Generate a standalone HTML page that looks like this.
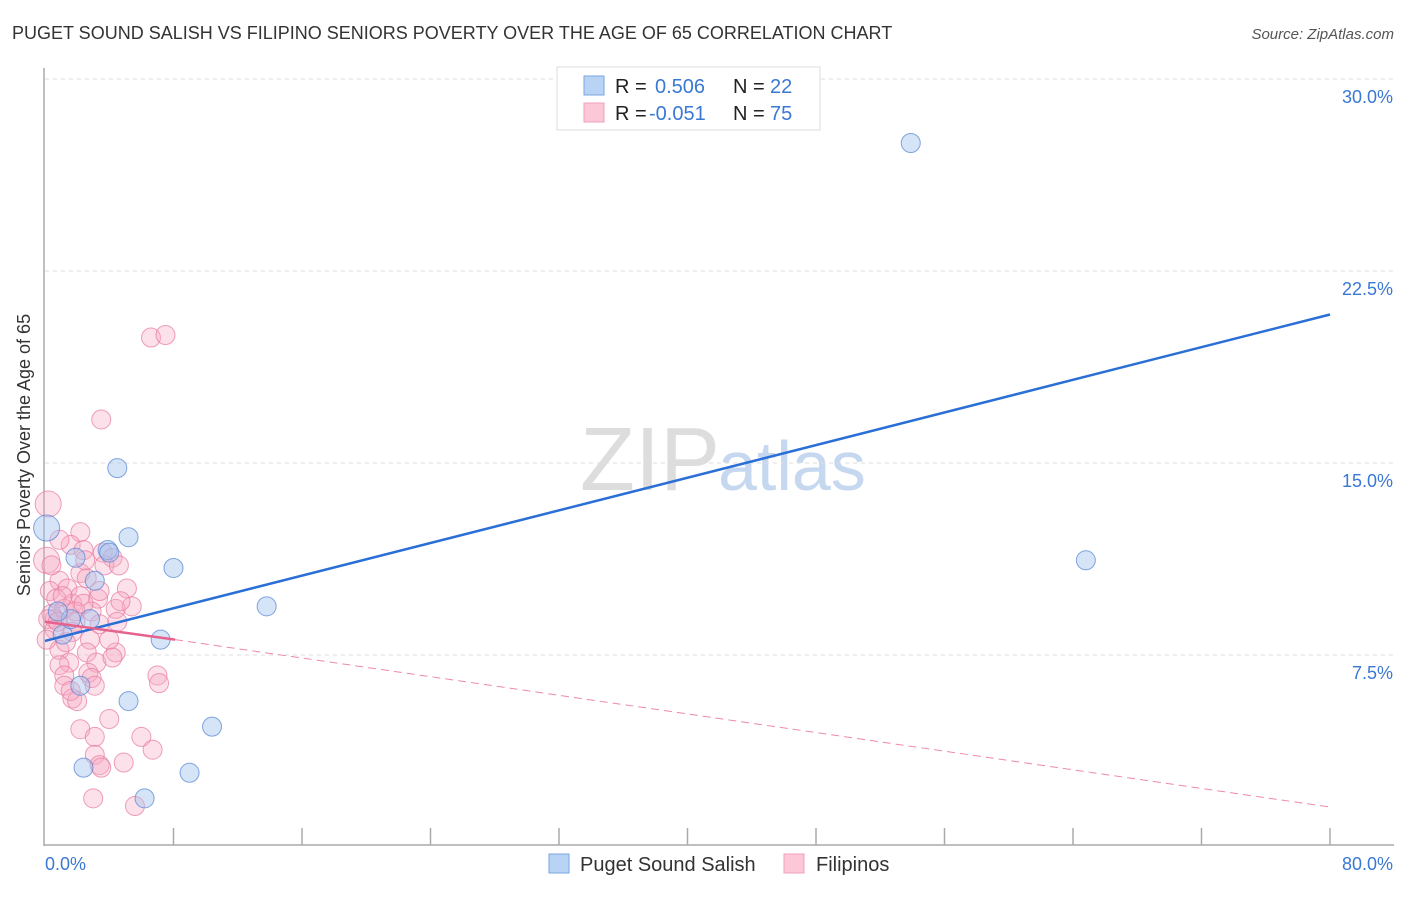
<!DOCTYPE html>
<html><head><meta charset="utf-8"><style>
body{margin:0;background:#fff;font-family:"Liberation Sans",sans-serif;}
svg text{font-family:"Liberation Sans",sans-serif;}
</style></head><body>
<svg id="chart" width="1406" height="892" xmlns="http://www.w3.org/2000/svg">
<text x="12" y="39" font-size="18" fill="#333">PUGET SOUND SALISH VS FILIPINO SENIORS POVERTY OVER THE AGE OF 65 CORRELATION CHART</text>
<text x="1394" y="39" font-size="15" fill="#555" font-style="italic" text-anchor="end">Source: ZipAtlas.com</text>
<text x="30" y="455" font-size="18" fill="#333" text-anchor="middle" transform="rotate(-90 30 455)">Seniors Poverty Over the Age of 65</text>
<text x="720" y="490" font-size="90" fill="#ddd" text-anchor="end" font-family="Liberation Serif">ZIP</text>
<text x="718" y="490" font-size="70" fill="#c5d8f0">atlas</text>
<g id="grid"></g><g id="axes"></g><g id="pts"></g><g id="lines"></g>
<g>
<rect x="557" y="67" width="263" height="63" fill="#fff" stroke="#ddd"/>
<rect x="584" y="76" width="20" height="19" fill="#b9d3f5" stroke="#7aa6e0"/>
<text x="615" y="93" font-size="20" fill="#222">R = </text><text x="655" y="93" font-size="20" fill="#3a78d4">0.506</text>
<text x="733" y="93" font-size="20" fill="#222">N = </text><text x="770" y="93" font-size="20" fill="#3a78d4">22</text>
<rect x="584" y="103" width="20" height="19" fill="#fcc8d7" stroke="#f0a0b8"/>
<text x="615" y="120" font-size="20" fill="#222">R = </text><text x="649" y="120" font-size="20" fill="#3a78d4">-0.051</text>
<text x="733" y="120" font-size="20" fill="#222">N = </text><text x="770" y="120" font-size="20" fill="#3a78d4">75</text>
</g>
<g>
<rect x="549" y="854" width="20" height="19" fill="#b9d3f5" stroke="#7aa6e0"/>
<text x="580" y="871" font-size="20" fill="#333">Puget Sound Salish</text>
<rect x="784" y="854" width="20" height="19" fill="#fcc8d7" stroke="#f0a0b8"/>
<text x="816" y="871" font-size="20" fill="#333">Filipinos</text>
</g>
</svg>
<script>
const yTicks=[7.5,15,22.5,30];
const yTickLabels=["7.5%","15.0%","22.5%","30.0%"];
const xTickLabels=["0.0%","80.0%"];
const blueX=[0.1,53.9,4.5,5.2,1.9,3.9,3.1,8.0,13.8,64.8,2.8,1.1,7.2,5.2,10.4,2.4,9.0,6.2,2.2,1.6,0.8,4.0];
const blueY=[12.46,27.5,14.8,12.1,11.3,11.6,10.4,10.9,9.4,11.2,8.9,8.3,8.1,5.7,4.7,3.1,2.9,1.9,6.3,8.9,9.2,11.5];
const pinkX=[0.2,0.1,6.6,7.5,3.5,2.2,1.6,2.4,3.6,4.2,3.7,4.6,2.2,0.9,2.6,5.1,1.4,0.3,3.3,0.7,1.7,5.4,4.4,2.9,1.2,0.4,0.6,1.9,3.4,4.5,0.2,0.6,1.7,2.8,0.9,2.6,4.4,1.5,3.2,4.2,0.9,2.7,1.2,2.9,7.0,7.1,1.2,3.1,1.7,2.0,4.0,2.2,3.1,6.0,6.7,3.1,4.9,3.4,3.5,3.0,5.6,1.1,2.2,0.1,1.3,4.0,1.9,2.5,0.4,0.8,2.4,1.6,3.4,4.7,0.9];
const pinkY=[13.4,11.2,19.9,20.0,16.7,12.3,11.8,11.6,11.5,11.3,11.0,11.0,10.7,10.4,10.5,10.1,10.1,10.0,9.7,9.7,9.5,9.4,9.3,9.2,9.3,9.1,8.9,8.8,8.7,8.8,8.9,8.5,8.4,8.1,7.7,7.6,7.6,7.2,7.2,7.4,7.1,6.8,6.7,6.6,6.7,6.4,6.3,6.3,5.8,5.7,5.0,4.6,4.3,4.3,3.8,3.6,3.3,3.2,3.1,1.9,1.6,9.8,9.8,8.1,8.0,8.1,9.2,11.2,11.0,8.8,9.5,6.1,10.0,9.6,12.0];
const blueTrend=[[0,8.05],[80,20.8]];
const pinkTrendSolid=[[0,8.8],[8.1,8.1]];
const pinkTrendDash=[[8.1,8.1],[80,1.56]];
const NS="http://www.w3.org/2000/svg";
const sx=v=>45+v/80*1285, sy=v=>847-v/30*768;
function mk(p,t,a){const e=document.createElementNS(NS,t);for(const k in a)e.setAttribute(k,a[k]);p.appendChild(e);return e;}
const grid=document.getElementById('grid'),axes=document.getElementById('axes'),pts=document.getElementById('pts'),lines=document.getElementById('lines');
yTicks.forEach((t,i)=>{
const g=mk(grid,'line',{x1:45,x2:1394,y1:sy(t),y2:sy(t),stroke:'#ddd','stroke-dasharray':'4 4'});


const l=mk(grid,'text',{x:1393,y:sy(t)+24,'font-size':18,fill:'#3a78d4','text-anchor':'end'});
l.textContent=yTickLabels[i];


});
const ax=mk(axes,'line',{x1:44,x2:44,y1:68,y2:846,stroke:'#aaa','stroke-width':1.5});


const bx=mk(axes,'line',{x1:44,x2:1394,y1:845,y2:845,stroke:'#aaa','stroke-width':1.5});


for(let i=1;i<=10;i++){const t=mk(axes,'line',{x1:sx(i*8),x2:sx(i*8),y1:828,y2:845,stroke:'#aaa','stroke-width':1.5});

}
[[45,'start'],[1393,'end']].forEach((p,i)=>{const l=mk(axes,'text',{x:p[0],y:870,'font-size':18,fill:'#3a78d4','text-anchor':p[1]});l.textContent=xTickLabels[i];

});
pinkX.forEach((x,i)=>{const c=mk(pts,'circle',{cx:sx(x),cy:sy(pinkY[i]),r:(i<2?13:9.5),fill:'rgba(246,170,196,0.35)',stroke:'rgba(232,120,158,0.7)','stroke-width':1});

});
blueX.forEach((x,i)=>{const c=mk(pts,'circle',{cx:sx(x),cy:sy(blueY[i]),r:(i==0?13:9.5),fill:'rgba(164,196,240,0.45)',stroke:'rgba(80,130,210,0.7)','stroke-width':1});

});
const bl=mk(lines,'line',{x1:sx(blueTrend[0][0]),y1:sy(blueTrend[0][1]),x2:sx(blueTrend[1][0]),y2:sy(blueTrend[1][1]),stroke:'#2a6fd6','stroke-width':2.5});


const ps=mk(lines,'line',{x1:sx(pinkTrendSolid[0][0]),y1:sy(pinkTrendSolid[0][1]),x2:sx(pinkTrendSolid[1][0]),y2:sy(pinkTrendSolid[1][1]),stroke:'#e4628c','stroke-width':2.5});


const pd=mk(lines,'line',{x1:sx(pinkTrendDash[0][0]),y1:sy(pinkTrendDash[0][1]),x2:sx(pinkTrendDash[1][0]),y2:sy(pinkTrendDash[1][1]),stroke:'#ec8aaa','stroke-width':1,'stroke-dasharray':'8 5'});


</script>
</body></html>
